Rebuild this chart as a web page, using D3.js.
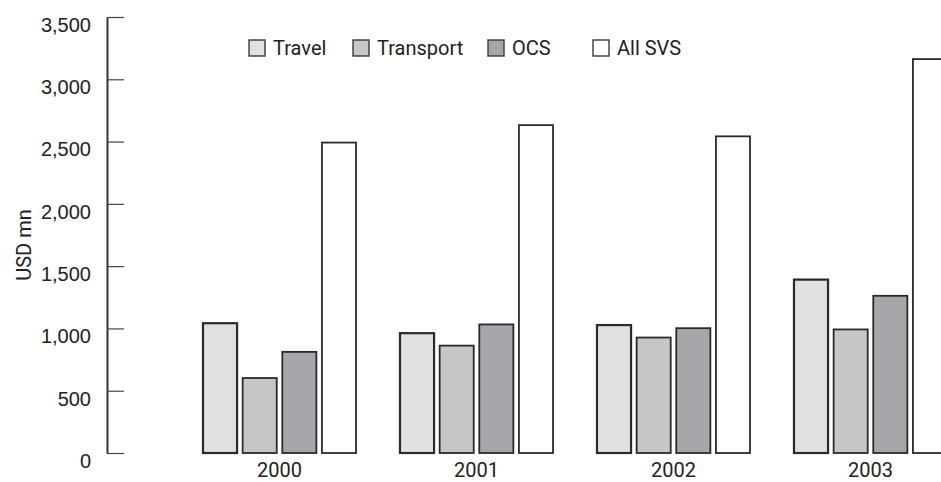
<!DOCTYPE html>
<html>
<head>
<meta charset="utf-8">
<script src="https://cdn.jsdelivr.net/npm/d3@7"></script>
<style>
  body { margin: 0; background: #fff; }
  svg { display: block; font-family: Roboto, "Open Sans", sans-serif; }
</style>
</head>
<body>
<script>
var w = 941;
var h = 482;

var years = ["2000", "2001", "2002", "2003"];
var seriesNames = ["Travel", "Transport", "OCS", "All SVS"];
var travel = [1050, 970, 1035, 1400];
var transport = [610, 870, 935, 1000];
var ocs = [820, 1040, 1010, 1270];
var allSvs = [2500, 2640, 2550, 3170];
var yTicks = [0, 500, 1000, 1500, 2000, 2500, 3000, 3500];
var colors = ["#e0e1e3", "#c5c6c8", "#a6a7aa", "#ffffff"];

var seriesValues = [travel, transport, ocs, allSvs];

var svg = d3.select("body")
    .append("svg")
    .attr("width", w)
    .attr("height", h);

var yScale = d3.scaleLinear()
    .domain([0, 3500])
    .range([453, 17]);

var xScale = d3.scaleBand()
    .domain(years)
    .range([202, 948])
    .paddingInner(0.213)
    .paddingOuter(0);

var xInner = d3.scaleBand()
    .domain(seriesNames)
    .range([0, xScale.bandwidth()])
    .paddingInner(0.09);

// Y axis, ticks pointing into the plot
var yAxis = d3.axisLeft(yScale)
    .tickValues(yTicks)
    .tickSizeInner(-17)
    .tickSizeOuter(0)
    .tickPadding(16)
    .tickFormat(d3.format(","));

var yAxisGroup = svg.append("g")
    .attr("transform", "translate(107,0)")
    .call(yAxis);

yAxisGroup.select(".domain")
    .attr("stroke", "#333")
    .attr("stroke-width", 2);

yAxisGroup.selectAll(".tick line")
    .attr("stroke", "#444")
    .attr("stroke-width", 1.2);

yAxisGroup.selectAll(".tick text")
    .attr("y", 8)
    .attr("fill", "#222")
    .style("font-size", "20px");

// Y axis title
svg.append("text")
    .attr("transform", "translate(31,245) rotate(-90)")
    .attr("text-anchor", "middle")
    .attr("fill", "#222")
    .style("font-size", "20px")
    .text("USD mn");

// Bars
var groups = svg.selectAll(".year")
    .data(years)
    .enter()
    .append("g")
    .attr("class", "year")
    .attr("transform", function (d) {
        return "translate(" + xScale(d) + ",0)";
    });

groups.selectAll("rect")
    .data(function (d, i) {
        return seriesNames.map(function (s, j) {
            return { series: s, idx: j, value: seriesValues[j][i] };
        });
    })
    .enter()
    .append("rect")
    .attr("x", function (d) { return xInner(d.series) + 1; })
    .attr("y", function (d) { return yScale(d.value) + 1; })
    .attr("width", xInner.bandwidth() - 2)
    .attr("height", function (d) { return yScale(0) - yScale(d.value) - 1; })
    .attr("fill", function (d) { return colors[d.idx]; })
    .attr("stroke", "#2a2a2a")
    .attr("stroke-width", function (d) { return d.idx === 0 ? 2.2 : 1.8; });

// Year labels
svg.selectAll(".yearLabel")
    .data(years)
    .enter()
    .append("text")
    .attr("class", "yearLabel")
    .attr("x", function (d) { return xScale(d) + xScale.bandwidth() / 2; })
    .attr("y", 477)
    .attr("text-anchor", "middle")
    .attr("fill", "#222")
    .style("font-size", "20px")
    .text(function (d) { return d; });

// Legend
var legendX = [249, 353, 488, 593];
var legend = svg.selectAll(".legend")
    .data(seriesNames)
    .enter()
    .append("g")
    .attr("class", "legend")
    .attr("transform", function (d, i) {
        return "translate(" + legendX[i] + ",40)";
    });

legend.append("rect")
    .attr("width", 16)
    .attr("height", 16)
    .attr("fill", function (d, i) { return colors[i]; })
    .attr("stroke", "#3a3a3a")
    .attr("stroke-width", 1.4);

legend.append("text")
    .attr("x", 24)
    .attr("y", 15)
    .attr("fill", "#222")
    .style("font-size", "20px")
    .text(function (d) { return d; });
</script>
</body>
</html>
